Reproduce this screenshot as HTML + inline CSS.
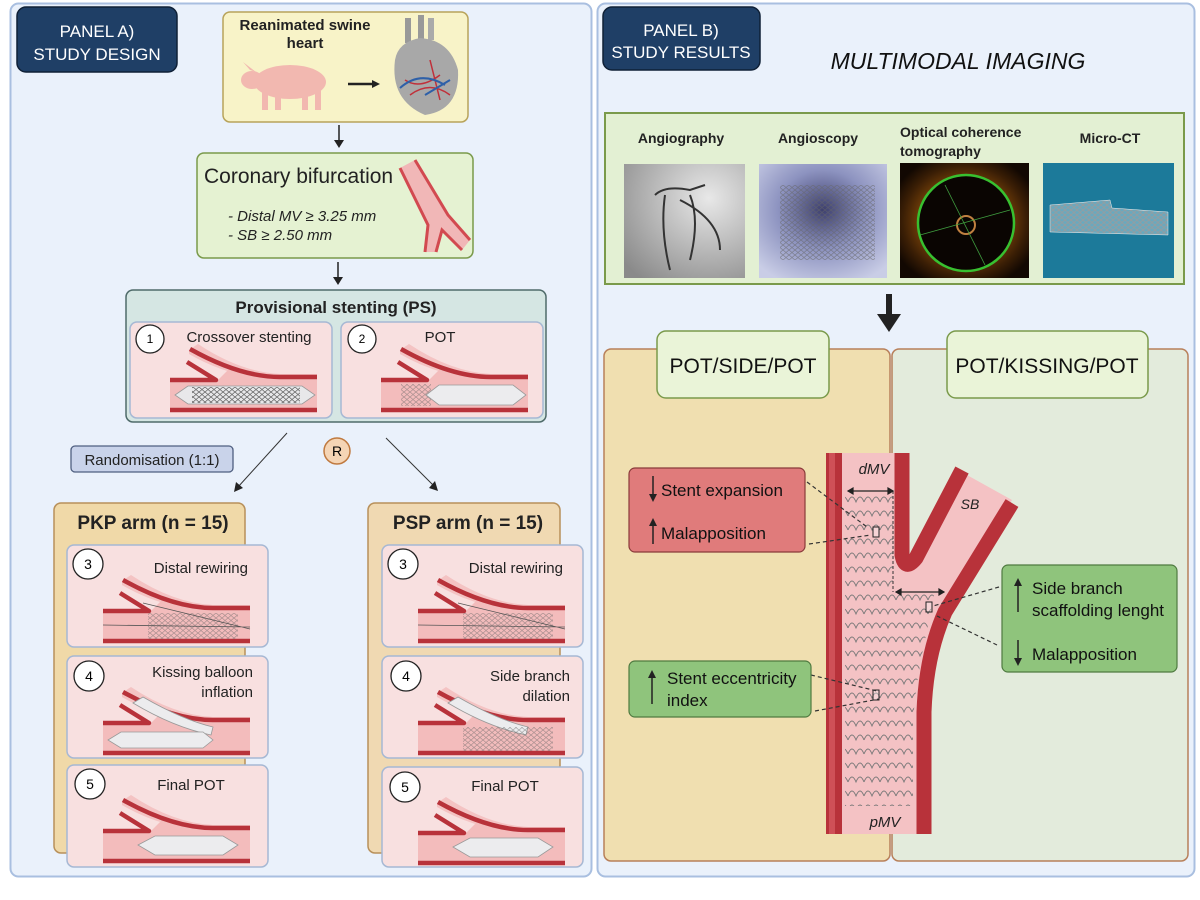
<!DOCTYPE html>
<html><head><meta charset="utf-8"><style>
html,body{margin:0;padding:0;background:#fff;}
svg{display:block;font-family:"Liberation Sans",sans-serif;}
</style></head><body>
<svg width="1200" height="900" viewBox="0 0 1200 900" xmlns="http://www.w3.org/2000/svg">
<defs>
<radialGradient id="ang" cx="0.7" cy="0.3" r="0.9"><stop offset="0" stop-color="#e8e8e8"/><stop offset="1" stop-color="#8a8a8a"/></radialGradient>
<radialGradient id="asc" cx="0.5" cy="0.4" r="0.7"><stop offset="0" stop-color="#3d3f6e"/><stop offset="0.5" stop-color="#8d93c0"/><stop offset="1" stop-color="#c9cde6"/></radialGradient>
<radialGradient id="oct" cx="0.5" cy="0.5" r="0.6"><stop offset="0.6" stop-color="#6a3a08"/><stop offset="0.8" stop-color="#3a1e05"/><stop offset="1" stop-color="#120802"/></radialGradient>
<clipPath id="octc"><rect x="900" y="163" width="129" height="115"/></clipPath>
<pattern id="mesh" width="6" height="5" patternUnits="userSpaceOnUse"><path d="M0 2.5 L3 0 L6 2.5 L3 5 Z" fill="none" stroke="#666" stroke-width="0.8"/></pattern>
<pattern id="scal" width="16" height="14" patternUnits="userSpaceOnUse"><path d="M0 12 Q4 2 8 12 Q12 2 16 12" fill="none" stroke="#777" stroke-width="0.9"/></pattern>
<g id="bif">
 <path d="M40 58 L88 58 L100 46 L150 55 L187 55 L187 89 L40 89 Z" fill="#f3bcbc"/>
 <path d="M59 28 L68 22 Q110 50 150 52 L187 52 L187 58 L150 58 Q100 56 59 32 Z" fill="#f3bcbc" opacity="0.8"/>
 <path d="M40 58 L86 58 L57 40" fill="none" stroke="#b8323a" stroke-width="4.5" stroke-linejoin="round"/>
 <path d="M60 27 Q110 55 150 55 L187 55" fill="none" stroke="#b8323a" stroke-width="4.5"/>
 <line x1="40" y1="88" x2="187" y2="88" stroke="#b8323a" stroke-width="4.5"/>
</g>
<g id="balloon"><path d="M45 73 L58 64 L172 64 L185 73 L172 82 L58 82 Z" fill="#e8e8ea" stroke="#999" stroke-width="0.8"/></g>
</defs>

<!-- Panel A -->
<rect x="10.5" y="3.5" width="581" height="873" rx="8" fill="#eaf1fb" stroke="#a9bfe0" stroke-width="2"/>
<rect x="17" y="7" width="160" height="65" rx="9" fill="#1f3f66" stroke="#0f2036" stroke-width="1.5"/>
<text x="97" y="37" font-size="17" fill="#fff" text-anchor="middle">PANEL A)</text>
<text x="97" y="60" font-size="17" fill="#fff" text-anchor="middle">STUDY DESIGN</text>

<rect x="223" y="12" width="245" height="110" rx="7" fill="#f8f3c8" stroke="#b8a35a" stroke-width="1.5"/>
<text x="305" y="30" font-size="15" font-weight="bold" fill="#222" text-anchor="middle">Reanimated swine</text>
<text x="305" y="48" font-size="15" font-weight="bold" fill="#222" text-anchor="middle">heart</text>
<g fill="#f2b8b0">
 <ellipse cx="290" cy="82" rx="36" ry="17"/>
 <ellipse cx="252" cy="80" rx="11" ry="9"/>
 <path d="M243 62 L250 70 L256 72 Z"/>
 <rect x="262" y="90" width="6" height="20"/><rect x="275" y="92" width="6" height="18"/><rect x="302" y="90" width="6" height="20"/><rect x="315" y="90" width="6" height="20"/>
</g>
<line x1="348" y1="84" x2="372" y2="84" stroke="#222" stroke-width="2.5"/><path d="M372 80 L380 84 L372 88 Z" fill="#222"/>
<g>
 <rect x="405" y="18" width="6" height="25" fill="#999"/><rect x="418" y="15" width="6" height="28" fill="#999"/><rect x="428" y="18" width="6" height="22" fill="#aaa"/>
 <path d="M395 60 Q390 100 425 115 Q460 110 458 70 Q450 40 420 38 Q398 42 395 60 Z" fill="#a8a8a8"/>
 <path d="M405 80 Q420 90 440 75 M410 95 Q430 80 450 95 M430 60 L440 100" stroke="#c0303a" stroke-width="1.5" fill="none"/>
 <path d="M400 88 Q420 70 445 85 M425 95 L450 80" stroke="#2e60a8" stroke-width="2" fill="none"/>
</g>
<line x1="339" y1="125" x2="339" y2="141" stroke="#222" stroke-width="1.5"/><path d="M334 140 L339 148 L344 140 Z" fill="#222"/>

<rect x="197" y="153" width="276" height="105" rx="7" fill="#e5f2d2" stroke="#7a9a4b" stroke-width="1.5"/>
<text x="204" y="183" font-size="21" fill="#222">Coronary bifurcation</text>
<text x="228" y="221" font-size="15" font-style="italic" fill="#222">- Distal MV ≥ 3.25 mm</text>
<text x="228" y="240" font-size="15" font-style="italic" fill="#222">-  SB ≥ 2.50 mm</text>
<path d="M400 168 L415 160 L448 215 L470 240 L462 250 L442 230 L436 252 L425 252 L428 225 Z" fill="#f1b7b7"/>
<path d="M400 168 L428 225 L425 252 M415 160 L448 215 L470 240 M436 252 L442 230 L462 250" fill="none" stroke="#d24a50" stroke-width="3"/>
<line x1="338" y1="262" x2="338" y2="278" stroke="#222" stroke-width="1.5"/><path d="M333 277 L338 285 L343 277 Z" fill="#222"/>

<rect x="126" y="290" width="420" height="132" rx="7" fill="#d5e6e3" stroke="#4f6b6a" stroke-width="1.5"/>
<text x="336" y="313" font-size="17" font-weight="bold" fill="#222" text-anchor="middle">Provisional stenting (PS)</text>
<rect x="130" y="322" width="202" height="96" rx="7" fill="#f8e0e0" stroke="#a6b8d4" stroke-width="1.5"/>
<rect x="341" y="322" width="202" height="96" rx="7" fill="#f8e0e0" stroke="#a6b8d4" stroke-width="1.5"/>
<circle cx="150" cy="339" r="14" fill="#fff" stroke="#222" stroke-width="1.3"/><text x="150" y="343" font-size="12" text-anchor="middle">1</text>
<circle cx="362" cy="339" r="14" fill="#fff" stroke="#222" stroke-width="1.3"/><text x="362" y="343" font-size="12" text-anchor="middle">2</text>
<text x="249" y="342" font-size="15" fill="#222" text-anchor="middle">Crossover stenting</text>
<text x="440" y="342" font-size="15" fill="#222" text-anchor="middle">POT</text>
<g transform="translate(130,322)"><use href="#bif"/><use href="#balloon"/><rect x="62" y="65" width="108" height="16" fill="url(#mesh)"/></g>
<g transform="translate(341,322)"><use href="#bif"/><rect x="60" y="62" width="30" height="22" fill="url(#mesh)" opacity="0.5"/><path d="M85 73 L98 63 L172 63 L185 73 L172 83 L98 83 Z" fill="#ececee" stroke="#999" stroke-width="0.8"/></g>

<line x1="287" y1="433" x2="238" y2="487" stroke="#333" stroke-width="1"/><path d="M234 492 L236 482 L243 488 Z" fill="#222"/>
<line x1="386" y1="438" x2="434" y2="486" stroke="#333" stroke-width="1"/><path d="M438 491 L429 488 L435 481 Z" fill="#222"/>
<circle cx="337" cy="451" r="13" fill="#f5d5b5" stroke="#c07a40" stroke-width="1.5"/><text x="337" y="456" font-size="14" text-anchor="middle">R</text>
<rect x="71" y="446" width="162" height="26" rx="4" fill="#c9d3ea" stroke="#4f5f80" stroke-width="1.3"/>
<text x="152" y="465" font-size="15" fill="#222" text-anchor="middle">Randomisation (1:1)</text>

<rect x="54" y="503" width="191" height="350" rx="7" fill="#f0d9a8" stroke="#b8905a" stroke-width="1.5"/>
<text x="153" y="529" font-size="19" font-weight="bold" fill="#222" text-anchor="middle">PKP arm (n = 15)</text>
<rect x="368" y="503" width="192" height="350" rx="7" fill="#f0d9b2" stroke="#b8905a" stroke-width="1.5"/>
<text x="468" y="529" font-size="19" font-weight="bold" fill="#222" text-anchor="middle">PSP arm (n = 15)</text>

<g font-size="15" fill="#222">
<rect x="67" y="545" width="201" height="102" rx="7" fill="#f8e0e0" stroke="#a6b8d4" stroke-width="1.5"/>
<rect x="67" y="656" width="201" height="102" rx="7" fill="#f8e0e0" stroke="#a6b8d4" stroke-width="1.5"/>
<rect x="67" y="765" width="201" height="102" rx="7" fill="#f8e0e0" stroke="#a6b8d4" stroke-width="1.5"/>
<rect x="382" y="545" width="201" height="102" rx="7" fill="#f8e0e0" stroke="#a6b8d4" stroke-width="1.5"/>
<rect x="382" y="656" width="201" height="102" rx="7" fill="#f8e0e0" stroke="#a6b8d4" stroke-width="1.5"/>
<rect x="382" y="767" width="201" height="100" rx="7" fill="#f8e0e0" stroke="#a6b8d4" stroke-width="1.5"/>
<text x="248" y="573" text-anchor="end">Distal rewiring</text>
<text x="253" y="677" text-anchor="end">Kissing balloon</text>
<text x="253" y="697" text-anchor="end">inflation</text>
<text x="191" y="790" text-anchor="middle">Final POT</text>
<text x="563" y="573" text-anchor="end">Distal rewiring</text>
<text x="570" y="681" text-anchor="end">Side branch</text>
<text x="570" y="701" text-anchor="end">dilation</text>
<text x="505" y="791" text-anchor="middle">Final POT</text>
</g>
<g font-size="14" text-anchor="middle">
<circle cx="88" cy="564" r="15" fill="#fff" stroke="#222" stroke-width="1.3"/><text x="88" y="569">3</text>
<circle cx="89" cy="676" r="15" fill="#fff" stroke="#222" stroke-width="1.3"/><text x="89" y="681">4</text>
<circle cx="90" cy="784" r="15" fill="#fff" stroke="#222" stroke-width="1.3"/><text x="90" y="789">5</text>
<circle cx="403" cy="564" r="15" fill="#fff" stroke="#222" stroke-width="1.3"/><text x="403" y="569">3</text>
<circle cx="406" cy="676" r="15" fill="#fff" stroke="#222" stroke-width="1.3"/><text x="406" y="681">4</text>
<circle cx="405" cy="787" r="15" fill="#fff" stroke="#222" stroke-width="1.3"/><text x="405" y="792">5</text>
</g>
<g transform="translate(63,553)"><use href="#bif"/><rect x="85" y="60" width="90" height="26" fill="url(#mesh)" opacity="0.5"/><path d="M40 72 L187 74 M80 50 L187 76" stroke="#555" stroke-width="0.8" fill="none"/></g>
<g transform="translate(378,553)"><use href="#bif"/><rect x="85" y="60" width="90" height="26" fill="url(#mesh)" opacity="0.5"/><path d="M40 72 L187 74 M80 50 L187 76" stroke="#555" stroke-width="0.8" fill="none"/></g>
<g transform="translate(63,665)"><use href="#bif"/><path d="M70 38 L80 32 Q120 55 150 62 L148 70 Q110 62 70 38 Z" fill="#ececee" stroke="#999" stroke-width="0.8"/><path d="M45 75 L58 67 L140 67 L150 75 L140 83 L58 83 Z" fill="#ececee" stroke="#999" stroke-width="0.8"/></g>
<g transform="translate(378,665)"><use href="#bif"/><path d="M70 38 L80 32 Q120 55 150 62 L148 70 Q110 62 70 38 Z" fill="#ececee" stroke="#999" stroke-width="0.8"/><rect x="85" y="62" width="90" height="24" fill="url(#mesh)" opacity="0.5"/></g>
<g transform="translate(63,773)"><use href="#bif"/><path d="M75 72 L92 63 L160 63 L175 72 L160 82 L92 82 Z" fill="#ececee" stroke="#999" stroke-width="0.8"/></g>
<g transform="translate(378,775)"><use href="#bif"/><path d="M75 72 L92 63 L160 63 L175 72 L160 82 L92 82 Z" fill="#ececee" stroke="#999" stroke-width="0.8"/></g>

<!-- Panel B -->
<rect x="597.5" y="3.5" width="597" height="873" rx="8" fill="#eaf1fb" stroke="#a9bfe0" stroke-width="2"/>
<rect x="603" y="7" width="157" height="63" rx="9" fill="#1f3f66" stroke="#0f2036" stroke-width="1.5"/>
<text x="681" y="36" font-size="17" fill="#fff" text-anchor="middle">PANEL B)</text>
<text x="681" y="58" font-size="17" fill="#fff" text-anchor="middle">STUDY RESULTS</text>
<text x="958" y="69" font-size="23" font-style="italic" fill="#111" text-anchor="middle">MULTIMODAL IMAGING</text>

<rect x="605" y="113" width="579" height="171" fill="#e3f0d3" stroke="#7a9a4b" stroke-width="2"/>
<g font-size="14" font-weight="bold" fill="#222">
<text x="681" y="143" text-anchor="middle">Angiography</text>
<text x="818" y="143" text-anchor="middle">Angioscopy</text>
<text x="900" y="137">Optical coherence</text>
<text x="900" y="156">tomography</text>
<text x="1110" y="143" text-anchor="middle">Micro-CT</text>
</g>
<rect x="624" y="164" width="121" height="114" fill="url(#ang)"/>
<path d="M655 195 Q665 185 690 190 L705 185 M665 195 Q660 230 670 270 M690 195 Q700 220 690 260 M680 200 Q720 220 720 250" stroke="#333" stroke-width="2" fill="none"/>
<rect x="759" y="164" width="128" height="114" fill="url(#asc)"/>
<rect x="780" y="185" width="95" height="75" fill="url(#mesh)" opacity="0.6"/>
<g clip-path="url(#octc)">
<rect x="900" y="163" width="129" height="115" fill="url(#oct)"/>
<circle cx="966" cy="223" r="48" fill="#0a0502" stroke="#38c030" stroke-width="2.5"/>
<circle cx="966" cy="225" r="9" fill="none" stroke="#c08040" stroke-width="2"/>
<path d="M920 235 L1010 210 M945 185 L985 265" stroke="#40a040" stroke-width="0.8"/>
</g>
<rect x="1043" y="163" width="131" height="115" fill="#1c7a9a"/>
<path d="M1050 205 L1110 200 L1112 208 L1168 212 L1168 235 L1050 232 Z" fill="url(#mesh)" stroke="#eee" stroke-width="0.5"/>
<path d="M1050 205 L1110 200 L1112 208 L1168 212 L1168 235 L1050 232 Z" fill="#ffffff" opacity="0.35"/>

<rect x="886" y="294" width="6" height="22" fill="#222"/><path d="M877 314 L889 332 L901 314 Z" fill="#222"/>

<rect x="604" y="349" width="286" height="512" rx="7" fill="#f0dfb0" stroke="#b8805a" stroke-width="1.5"/>
<rect x="892" y="349" width="296" height="512" rx="7" fill="#e3ebdc" stroke="#b8805a" stroke-width="1.5"/>
<rect x="657" y="331" width="172" height="67" rx="9" fill="#eaf4d8" stroke="#7a9a4b" stroke-width="1.5"/>
<text x="743" y="373" font-size="21" fill="#111" text-anchor="middle">POT/SIDE/POT</text>
<rect x="947" y="331" width="201" height="67" rx="9" fill="#eaf4d8" stroke="#7a9a4b" stroke-width="1.5"/>
<text x="1047" y="373" font-size="21" fill="#111" text-anchor="middle">POT/KISSING/POT</text>

<path d="M842 453 L895 453 L895 555 Q905 575 915 555 L958 470 L1012 500 L945 612 Q931 650 917 710 L917 834 L842 834 Z" fill="#f4c2c4"/>
<path d="M845 491 L893 491 L893 590 L935 590 L925 640 Q916 680 913 720 L913 806 L845 806 Z" fill="url(#scal)"/>
<rect x="826" y="453" width="16" height="381" fill="#b8323a"/>
<rect x="829" y="453" width="6" height="381" fill="#cf5057"/>
<path d="M902 453 L902 555 Q905 572 916 558 L962 470" fill="none" stroke="#b8323a" stroke-width="15" stroke-linejoin="round"/>
<path d="M1012 503 L945 612 Q926 655 924 712 L924 834" fill="none" stroke="#b8323a" stroke-width="15"/>
<line x1="893" y1="491" x2="893" y2="592" stroke="#333" stroke-width="1" stroke-dasharray="3,2"/>
<g stroke="#222" stroke-width="1.2">
<line x1="848" y1="491" x2="893" y2="491"/><path d="M848 491 l5 -3 v6 z M893 491 l-5 -3 v6 z" fill="#222"/>
<line x1="896" y1="592" x2="944" y2="592"/><path d="M896 592 l5 -3 v6 z M944 592 l-5 -3 v6 z" fill="#222"/>
</g>
<text x="874" y="474" font-size="15" font-style="italic" text-anchor="middle" fill="#222">dMV</text>
<text x="970" y="509" font-size="14" font-style="italic" text-anchor="middle" fill="#222">SB</text>
<text x="885" y="827" font-size="15" font-style="italic" text-anchor="middle" fill="#222">pMV</text>
<g fill="#fff" fill-opacity="0.3" stroke="#222" stroke-width="1"><rect x="873" y="527" width="6" height="10"/><rect x="926" y="602" width="6" height="10"/><rect x="873" y="690" width="6" height="10"/></g>
<g stroke="#333" stroke-width="1.2" stroke-dasharray="4,3" fill="none">
<path d="M807 482 L867 527"/><path d="M809 544 L871 535"/>
<path d="M811 675 L877 691"/><path d="M815 711 L879 699"/>
<path d="M999 587 L933 606"/><path d="M997 645 L937 616"/>
</g>
<rect x="629" y="468" width="176" height="84" rx="6" fill="#e07b7b" stroke="#8a3a3a" stroke-width="1.2"/>
<text x="661" y="496" font-size="17" fill="#111">Stent expansion</text>
<text x="661" y="539" font-size="17" fill="#111">Malapposition</text>
<line x1="653" y1="476" x2="653" y2="496" stroke="#222" stroke-width="1.5"/><path d="M649 494 L653 502 L657 494 Z" fill="#222"/>
<line x1="653" y1="524" x2="653" y2="544" stroke="#222" stroke-width="1.5"/><path d="M649 526 L653 518 L657 526 Z" fill="#222"/>
<rect x="629" y="661" width="182" height="56" rx="6" fill="#8fc47c" stroke="#4f7a40" stroke-width="1.2"/>
<text x="667" y="684" font-size="17" fill="#111">Stent eccentricity</text>
<text x="667" y="706" font-size="17" fill="#111">index</text>
<line x1="652" y1="676" x2="652" y2="704" stroke="#222" stroke-width="1.5"/><path d="M648 678 L652 670 L656 678 Z" fill="#222"/>
<rect x="1002" y="565" width="175" height="107" rx="6" fill="#8fc47c" stroke="#4f7a40" stroke-width="1.2"/>
<text x="1032" y="594" font-size="17" fill="#111">Side branch</text>
<text x="1032" y="616" font-size="17" fill="#111">scaffolding lenght</text>
<text x="1032" y="660" font-size="17" fill="#111">Malapposition</text>
<line x1="1018" y1="584" x2="1018" y2="612" stroke="#222" stroke-width="1.5"/><path d="M1014 586 L1018 578 L1022 586 Z" fill="#222"/>
<line x1="1018" y1="640" x2="1018" y2="660" stroke="#222" stroke-width="1.5"/><path d="M1014 658 L1018 666 L1022 658 Z" fill="#222"/>
</svg>
</body></html>
